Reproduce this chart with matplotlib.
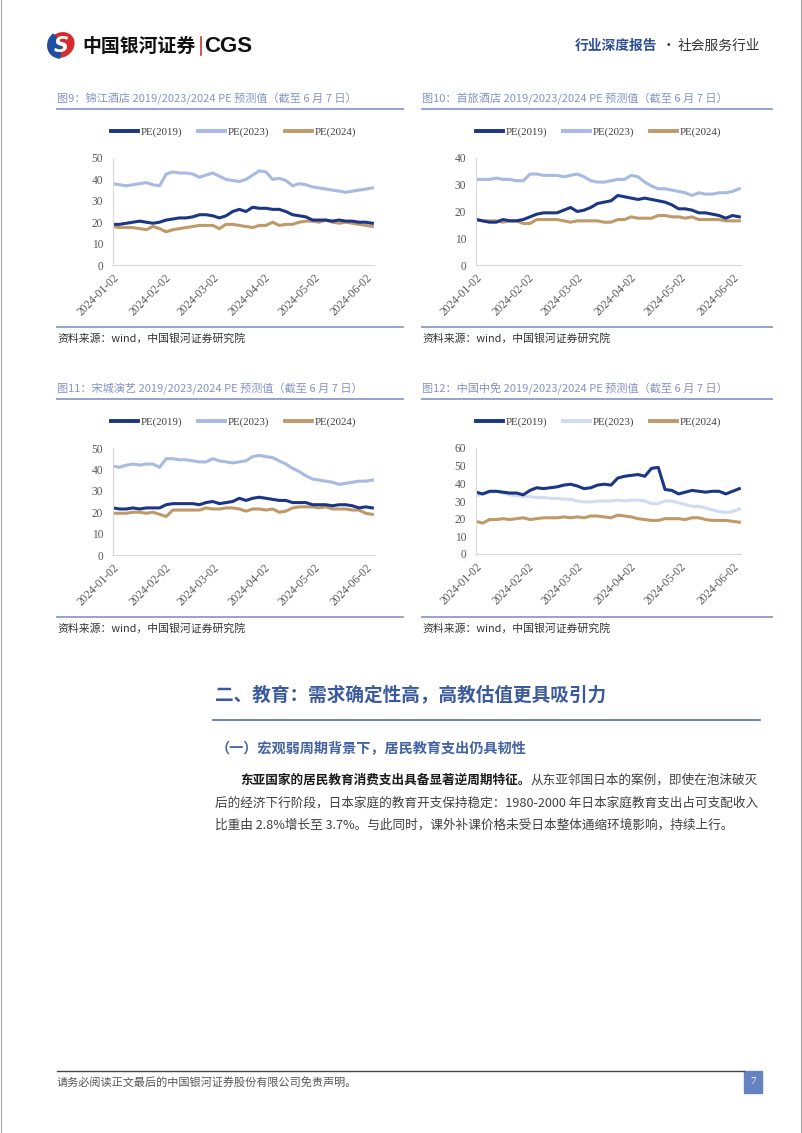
import matplotlib
matplotlib.use('Agg')
import matplotlib.pyplot as plt
import pandas as pd
from matplotlib.patches import Ellipse, Wedge, Rectangle

plt.rcParams['font.family'] = ['Noto Sans CJK SC', 'DejaVu Sans']

# ---------------- data ----------------
dates = pd.date_range('2024-01-02', periods=40, freq='4D')
tick_labels = ['2024-01-02', '2024-02-02', '2024-03-02', '2024-04-02', '2024-05-02', '2024-06-02']
series_names = ['PE(2019)', 'PE(2023)', 'PE(2024)']

# 图9 锦江酒店
jj_2019 = [19, 19, 19.5, 20, 20.5, 20, 19.5, 20, 21, 21.5, 22, 22, 22.5, 23.5, 23.5, 23, 22, 23, 25, 26,
           25, 27, 26.5, 26.5, 26, 26, 25, 23.5, 23, 22.5, 21, 21, 21, 20.5, 21, 20.5, 20.5, 20, 20, 19.5]
jj_2023 = [38, 37.5, 37, 37.5, 38, 38.5, 37.5, 37, 42.5, 43.5, 43, 43, 42.5, 41, 42, 43, 41.5, 40, 39.5, 39,
           40, 42, 44, 43.5, 40, 40.5, 39.5, 37, 38, 37.5, 36.5, 36, 35.5, 35, 34.5, 34, 34.5, 35, 35.5, 36]
jj_2024 = [18, 17.5, 17.5, 17.5, 17, 16.5, 18, 17, 15.5, 16.5, 17, 17.5, 18, 18.5, 18.5, 18.5, 17, 19, 19, 18.5,
           18, 17.5, 18.5, 18.5, 20, 18.5, 19, 19, 20, 20.5, 20.5, 20, 21, 20, 19.5, 20, 19.5, 19, 18.5, 18]

# 图10 首旅酒店
sl_2019 = [17, 16.5, 16, 16, 17, 16.5, 16.5, 17, 18, 19, 19.5, 19.5, 19.5, 20.5, 21.5, 20, 20.5, 21.5, 23, 23.5,
           24, 26, 25.5, 25, 24.5, 25, 24.5, 24, 23.5, 22.5, 21, 21, 20.5, 19.5, 19.5, 19, 18.5, 17.5, 18.5, 18]
sl_2023 = [32, 32, 32, 32.5, 32, 32, 31.5, 31.5, 34, 34, 33.5, 33.5, 33.5, 33, 33.5, 34, 33, 31.5, 31, 31,
           31.5, 32, 32, 33.5, 33, 31, 29.5, 28.5, 28.5, 28, 27.5, 27, 26, 27, 26.5, 26.5, 27, 27, 27.5, 28.5]
sl_2024 = [17, 16.5, 16.5, 16.5, 16, 16.5, 16.5, 15.5, 15.5, 17, 17, 17, 17, 16.5, 16, 16.5, 16.5, 16.5, 16.5, 16,
           16, 17, 17, 18, 17.5, 17.5, 17.5, 18.5, 18.5, 18, 18, 17.5, 18, 17, 17, 17, 17, 16.5, 16.5, 16.5]

# 图11 宋城演艺
sc_2019 = [22, 21.5, 21.5, 22, 21.5, 22, 22, 22, 23.5, 24, 24, 24, 24, 23.5, 24.5, 25, 24, 24.5, 25, 26.5,
           25.5, 26.5, 27, 26.5, 26, 25.5, 25.5, 24.5, 24.5, 24.5, 23.5, 23.5, 23.5, 23, 23.5, 23.5, 23, 22, 22.5, 22]
sc_2023 = [41.5, 41, 42, 42.5, 42, 42.5, 42.5, 41, 45, 45, 44.5, 44.5, 44, 43.5, 43.5, 45, 44, 43.5, 43, 43.5,
           44, 46, 46.5, 46, 45.5, 44, 42.5, 40.5, 39, 37, 35.5, 35, 34.5, 34, 33, 33.5, 34, 34.5, 34.5, 35]
sc_2024 = [19.5, 19.5, 19.5, 20, 20, 19.5, 20, 19, 18, 21, 21, 21, 21, 21, 22, 21.5, 21.5, 22, 22, 21.5,
           20.5, 21.5, 21.5, 21, 21.5, 20, 20.5, 22, 22.5, 22.5, 22.5, 22, 22.5, 21.5, 21.5, 21.5, 21, 21, 19.5, 19]

# 图12 中国中免
zm_2019 = [35, 34, 35.5, 35.5, 35, 34.5, 34.5, 33.5, 36, 37.5, 37, 37.5, 38, 39, 39.5, 38.5, 37, 37.5, 39, 39.5,
           39, 43, 44, 44.5, 45, 44, 48.5, 49, 36.5, 36, 34, 35, 36, 35.5, 35, 35.5, 35.5, 34, 35.5, 37]
zm_2023 = [33, 34, 35, 35.5, 34.5, 33.5, 33, 32.5, 32.5, 32, 32, 31.5, 31.5, 31, 31, 30, 29.5, 29.5, 30, 30,
           30, 30.5, 30, 30.5, 30.5, 30, 28.5, 28.5, 30, 30, 29, 28, 27, 27, 26, 25, 24, 23.5, 24, 25.5]
zm_2024 = [18.5, 17.5, 19.5, 19.5, 20, 19.5, 20, 20.5, 19.5, 20, 20.5, 20.5, 20.5, 21, 20.5, 21, 20.5, 21.5, 21.5, 21,
           20.5, 22, 21.5, 21, 20, 19.5, 19, 19, 20, 20, 20, 19.5, 20.5, 20.5, 19.5, 19, 19, 19, 18.5, 18]

titles = ['图9：锦江酒店 2019/2023/2024 PE 预测值（截至 6 月 7 日）',
          '图10：首旅酒店 2019/2023/2024 PE 预测值（截至 6 月 7 日）',
          '图11：宋城演艺 2019/2023/2024 PE 预测值（截至 6 月 7 日）',
          '图12：中国中免 2019/2023/2024 PE 预测值（截至 6 月 7 日）']
y_max = [50, 40, 50, 60]
source = '资料来源：wind，中国银河证券研究院'

# ---------------- styling ----------------
NAVY = '#1b3685'
LIGHT = '#a7bae1'
LIGHTER = '#d0dcf1'
TAN = '#bf9a68'
TITLE_C = '#8593c6'
LINE_C = '#8e9bc8'
BLUE_H = '#3b5a9e'
SERIF = ['Liberation Serif', 'DejaVu Serif']

W, H = 802, 1133
fig = plt.figure(figsize=(W / 100, H / 100), dpi=100)
bg = fig.add_axes([0, 0, 1, 1])
bg.set_xlim(0, W)
bg.set_ylim(H, 0)
bg.axis('off')

# page frame
bg.plot([0.7, 0.7], [0, H], color='#a8a8a8', lw=0.8)
bg.plot([W - 1, W - 1], [0, H], color='#a8a8a8', lw=0.8)

# ---------------- header ----------------
bg.add_patch(Ellipse((61, 45), 27, 23, angle=-35, color='#d62a2f'))
bg.add_patch(Wedge((61, 45), 13.2, 95, 235, color='#1d4fa3'))
bg.text(61.5, 45.5, 'S', color='white', fontsize=15, fontweight='bold', style='italic',
        ha='center', va='center', family=['DejaVu Sans'])
bg.text(82, 46, '中国银河证券', fontsize=13.6, fontweight='bold', color='#111111', ha='left', va='center')
bg.plot([200.5, 200.5], [37, 55], color='#c0392b', lw=1.2)
bg.text(204, 46.5, 'CGS', fontsize=16, fontweight='bold', color='#111111', ha='left', va='center',
        family=['Liberation Sans', 'DejaVu Sans'])
bg.text(575, 46, '行业深度报告', fontsize=9.9, color='#2f4f96', ha='left', va='center', fontweight='bold')
bg.text(668, 46, '·', fontsize=9.9, color='#333333', ha='center', va='center')
bg.text(678, 46, '社会服务行业', fontsize=9.9, color='#333333', ha='left', va='center')

# ---------------- charts ----------------
panels = [
    dict(px=57, pr=403, ty=99, box=(113, 158, 374, 265), data=(jj_2019, jj_2023, jj_2024), c23=LIGHT),
    dict(px=422, pr=772, ty=99, box=(476, 158, 741, 265), data=(sl_2019, sl_2023, sl_2024), c23=LIGHT),
    dict(px=57, pr=403, ty=389, box=(113, 448, 374, 555), data=(sc_2019, sc_2023, sc_2024), c23=LIGHT),
    dict(px=422, pr=772, ty=389, box=(476, 448, 741, 554), data=(zm_2019, zm_2023, zm_2024), c23=LIGHTER),
]

for i, p in enumerate(panels):
    px, pr, ty = p['px'], p['pr'], p['ty']
    l, t, r, b = p['box']
    bg.text(px, ty, titles[i], fontsize=8, color=TITLE_C, ha='left', va='center')
    bg.plot([px, pr], [ty + 10, ty + 10], color=LINE_C, lw=1.3)
    bg.plot([px, pr], [ty + 228, ty + 228], color=LINE_C, lw=1.3)
    bg.text(px, ty + 239, source, fontsize=7.8, color='#333333', ha='left', va='center', style='italic')

    ax = fig.add_axes([l / W, 1 - b / H, (r - l) / W, (b - t) / H])
    s19, s23, s24 = p['data']
    h23, = ax.plot(dates, s23, color=p['c23'], lw=2.2, solid_joinstyle='round')
    h24, = ax.plot(dates, s24, color=TAN, lw=2.2, solid_joinstyle='round')
    h19, = ax.plot(dates, s19, color=NAVY, lw=2.2, solid_joinstyle='round')
    ax.set_xlim(pd.Timestamp('2024-01-02'), pd.Timestamp('2024-06-07'))
    ax.set_ylim(0, y_max[i])
    ax.set_yticks(range(0, y_max[i] + 1, 10))
    ax.set_xticks(pd.to_datetime(tick_labels))
    ax.set_xticklabels(tick_labels, rotation=45, ha='right', rotation_mode='anchor')
    for lab in ax.get_xticklabels() + ax.get_yticklabels():
        lab.set_family(SERIF)
        lab.set_color('#595959')
        lab.set_fontsize(8.3)
    ax.tick_params(axis='both', length=0)
    ax.tick_params(axis='y', pad=7)
    ax.tick_params(axis='x', pad=5)
    for s in ['top', 'right']:
        ax.spines[s].set_visible(False)
    for s in ['left', 'bottom']:
        ax.spines[s].set_color('#d9d9d9')
        ax.spines[s].set_linewidth(0.8)
    ax.patch.set_alpha(0)
    leg = ax.legend([h19, h23, h24], series_names, loc='center', ncol=3, frameon=False,
                    bbox_to_anchor=((l + r) / 2 - 10, ty + 33), bbox_transform=bg.transData,
                    prop={'family': SERIF, 'size': 7.8}, handlelength=2.5, handletextpad=0.3,
                    columnspacing=1.4)
    for txt in leg.get_texts():
        txt.set_color('#404040')
    for ln in leg.get_lines():
        ln.set_linewidth(2.8)

# ---------------- section text ----------------
bg.text(215, 695, '二、教育：需求确定性高，高教估值更具吸引力', fontsize=13.4, fontweight='bold',
        color=BLUE_H, ha='left', va='center')
bg.plot([213, 760], [720, 720], color='#4f6eab', lw=1.2)
bg.text(216, 749, '（一）宏观弱周期背景下，居民教育支出仍具韧性', fontsize=10.2, fontweight='bold',
        color='#4463a3', ha='left', va='center')

body_bold = '东亚国家的居民教育消费支出具备显著逆周期特征。'
body_l1 = '从东亚邻国日本的案例，即使在泡沫破灭'
body_l2 = '后的经济下行阶段，日本家庭的教育开支保持稳定：1980-2000 年日本家庭教育支出占可支配收入'
body_l3 = '比重由 2.8%增长至 3.7%。与此同时，课外补课价格未受日本整体通缩环境影响，持续上行。'

t_b = bg.text(240, 780, body_bold, fontsize=9.1, fontweight='semibold', color='#1a1a1a', ha='left', va='center')
fig.canvas.draw()
ext = t_b.get_window_extent(renderer=fig.canvas.get_renderer())
bg.text(ext.x1, 780, body_l1, fontsize=9.1, color='#404040', ha='left', va='center')
bg.text(215, 803, body_l2, fontsize=9.1, color='#404040', ha='left', va='center')
bg.text(215, 825, body_l3, fontsize=9.1, color='#404040', ha='left', va='center')

# ---------------- footer ----------------
bg.plot([57, 744], [1071, 1071], color='#444444', lw=1.0)
bg.add_patch(Rectangle((744, 1071), 18, 22, color='#6583c0'))
bg.text(753, 1082, '7', color='white', fontsize=8, ha='center', va='center', family=SERIF)
bg.text(57, 1083, '请务必阅读正文最后的中国银河证券股份有限公司免责声明。', fontsize=8, color='#555555',
        ha='left', va='center')

fig.savefig('out.png', dpi=100)
